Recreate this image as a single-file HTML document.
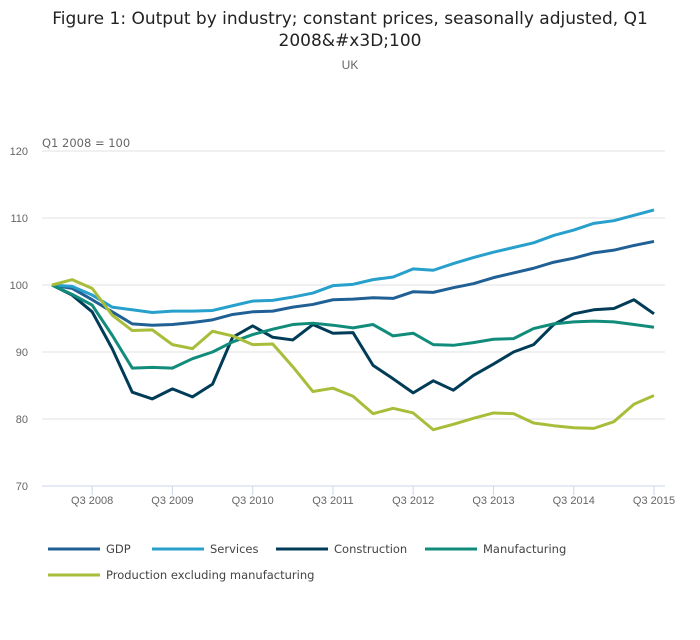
<!DOCTYPE html>
<html><head><meta charset="utf-8"><style>
body{margin:0;background:#fff;font-family:"Liberation Sans",sans-serif;}
</style></head><body>
<svg width="700" height="635" font-family="Liberation Sans, sans-serif">
<text x="350" y="24" text-anchor="middle" font-size="17" fill="#222" font-family="DejaVu Sans, sans-serif">Figure 1: Output by industry; constant prices, seasonally adjusted, Q1</text>
<text x="350" y="46" text-anchor="middle" font-size="17" fill="#222" font-family="DejaVu Sans, sans-serif">2008&amp;#x3D;100</text>
<text x="350" y="69" text-anchor="middle" font-size="12" fill="#666">UK</text>
<text x="42" y="147" font-size="11.5" fill="#666" font-family="DejaVu Sans, sans-serif">Q1 2008 = 100</text>
<g id="grid"></g><g id="xt"></g><g id="series"></g>
<g id="legend"></g>
</svg>
<script>
const quarters=31;
const yTicks=[70,80,90,100,110,120];
const xLabels=["Q3 2008","Q3 2009","Q3 2010","Q3 2011","Q3 2012","Q3 2013","Q3 2014","Q3 2015"];
const xLabelIdx=[2,6,10,14,18,22,26,30];
const seriesNames=["GDP","Services","Construction","Manufacturing","Production excluding manufacturing"];
const gdp=[100,99.5,97.8,96,94.2,94,94.1,94.4,94.8,95.6,96,96.1,96.7,97.1,97.8,97.9,98.1,98.0,99.0,98.9,99.6,100.2,101.1,101.8,102.5,103.4,104.0,104.8,105.2,105.9,106.5];
const services=[100,99.8,98.5,96.7,96.3,95.9,96.1,96.1,96.2,96.9,97.6,97.7,98.2,98.8,99.9,100.1,100.8,101.2,102.4,102.2,103.2,104.1,104.9,105.6,106.3,107.4,108.2,109.2,109.6,110.4,111.2];
const construction=[100,98.5,96,90.5,84,83,84.5,83.3,85.2,92.2,93.9,92.2,91.8,94.1,92.8,92.9,88,86,83.9,85.7,84.3,86.5,88.2,90,91.1,94.1,95.7,96.3,96.5,97.8,95.7];
const manufacturing=[100,98.6,97,92.5,87.6,87.7,87.6,89,90,91.5,92.6,93.4,94.1,94.3,94.0,93.6,94.1,92.4,92.8,91.1,91.0,91.4,91.9,92.0,93.5,94.2,94.5,94.6,94.5,94.1,93.7];
const production=[100,100.8,99.5,95.5,93.2,93.3,91.1,90.5,93.1,92.4,91.1,91.2,87.8,84.1,84.6,83.4,80.8,81.6,80.9,78.4,79.2,80.1,80.9,80.8,79.4,79.0,78.7,78.6,79.6,82.2,83.5];
const colors=["#206095","#27a0cc","#003c57","#118c7b","#a8bd3a"];
const NS="http://www.w3.org/2000/svg";
const x=i=>52+i*(602/(quarters-1));
const y=v=>486-(v-70)*(335/50);
function mk(t,a,p){const e=document.createElementNS(NS,t);for(const k in a)e.setAttribute(k,a[k]);p.appendChild(e);return e;}
const g=document.getElementById('grid');
yTicks.forEach(v=>{
 const l=mk('line',{x1:42,x2:665,y1:y(v),y2:y(v),stroke:v===70?'#ccd6eb':'#e2e2e2','stroke-width':1},g);
 
 
 const t=mk('text',{x:28,y:y(v)+4,'font-size':11,fill:'#666','text-anchor':'end'},g);t.textContent=v;
 
 
});
const xt=document.getElementById('xt');
xLabels.forEach((s,k)=>{
 const i=xLabelIdx[k];
 const tk=mk('line',{x1:x(i),x2:x(i),y1:486,y2:495,stroke:'#ccd6eb'},xt);
 
 
 const t=mk('text',{x:x(i),y:504,'font-size':11,fill:'#666','text-anchor':'middle'},xt);t.textContent=s;
 
 
});
const sg=document.getElementById('series');
[gdp,services,construction,manufacturing,production].forEach((d,k)=>{
 const p=mk('polyline',{points:d.map((v,i)=>x(i)+','+y(v)).join(' '),fill:'none',stroke:colors[k],'stroke-width':3,'stroke-linejoin':'round'},sg);
 
 
});
const lg=document.getElementById('legend');
const lpos=[[48,549],[152,549],[276,549],[425,549],[48,575]];
seriesNames.forEach((n,k)=>{
 const [lx,ly]=lpos[k];
 const e=mk('g',{},lg);
 
 
 mk('line',{x1:lx,x2:lx+52,y1:ly,y2:ly,stroke:colors[k],'stroke-width':3},e);
 const t=mk('text',{x:lx+58,y:ly+4,'font-size':11.5,fill:'#444','font-family':'DejaVu Sans, sans-serif'},e);t.textContent=n;
});
</script>
</body></html>
